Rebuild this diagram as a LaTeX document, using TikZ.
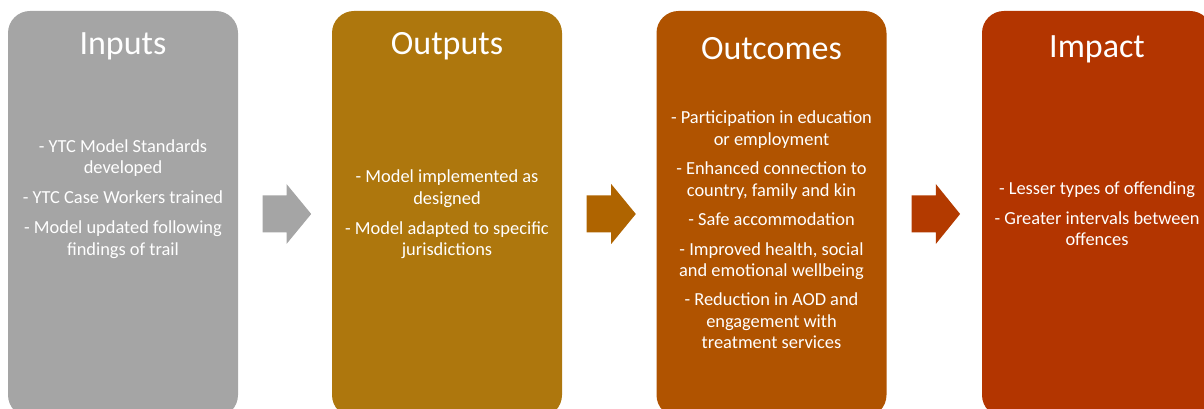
\documentclass[tikz,border=0pt]{standalone}
\usepackage{fontspec}
\setmainfont{Carlito}
\usetikzlibrary{calc}

\definecolor{inputgray}{RGB}{165,165,165}
\definecolor{outputgold}{RGB}{174,119,13}
\definecolor{outcomeorange}{RGB}{176,83,0}
\definecolor{impactred}{RGB}{179,53,0}
\definecolor{arrowgold}{RGB}{175,100,0}
\definecolor{arrowred}{RGB}{179,58,0}

\tikzset{every picture/.style={line width=0.75pt}}
\tikzset{
  stagebox/.style={draw=none, rounded corners=16.5pt, minimum width=172.5pt, minimum height=304.5pt, inner sep=0pt},
  stagetitle/.style={anchor=base, inner sep=0.75pt, text=white, font=\fontsize{25.5}{30}\selectfont},
  stagetext/.style={inner sep=0.75pt, text=white, align=center, font=\fontsize{13.8}{16.1}\selectfont},
  blockarrow/.style={draw=none}
}

\begin{document}
\begin{tikzpicture}[x=0.75pt,y=0.75pt,yscale=-1,xscale=1]
\useasboundingbox (0,0) rectangle (1204,409);
\clip (0,0) rectangle (1204,409);

%Rounded Rect: stages
\node [stagebox, fill=inputgray] (inputs) at (123,214) {};
\node [stagebox, fill=outputgold] (outputs) at (447,214) {};
\node [stagebox, fill=outcomeorange] (outcomes) at (771.5,214) {};
\node [stagebox, fill=impactred] (impact) at (1097,214) {};

%Block Arrows
\draw [blockarrow, fill=inputgray] ($(inputs.east)+(24,-18.5)$) -- ++(24,0) -- ++(0,-11.5) -- ++(24.7,30) -- ++(-24.7,30) -- ++(0,-11.5) -- ++(-24,0) -- cycle ;
\draw [blockarrow, fill=arrowgold] ($(outputs.east)+(24,-18.5)$) -- ++(24.7,0) -- ++(0,-11.5) -- ++(24.6,30) -- ++(-24.6,30) -- ++(0,-11.5) -- ++(-24.7,0) -- cycle ;
\draw [blockarrow, fill=arrowred] ($(outcomes.east)+(24.5,-18.5)$) -- ++(24.3,0) -- ++(0,-11.5) -- ++(24.3,30) -- ++(-24.3,30) -- ++(0,-11.5) -- ++(-24.3,0) -- cycle ;

% Text Node
\draw (123,55) node [stagetitle] {Inputs};
% Text Node
\draw (447,55) node [stagetitle] {Outputs};
% Text Node
\draw (771.5,60) node [stagetitle] {Outcomes};
% Text Node
\draw (1097,58) node [stagetitle] {Impact};

% Text Node
\draw (123,199) node [stagetext] {- YTC Model Standards\\developed\\[6.4pt]- YTC Case Workers trained\\[6.4pt]- Model updated following\\findings of trail};
% Text Node
\draw (447,214.5) node [stagetext] {- Model implemented as\\designed\\[6.4pt]- Model adapted to specific\\jurisdictions};
% Text Node
\draw (771.5,230) node [stagetext] {- Participation in education\\or employment\\[6pt]- Enhanced connection to\\country, family and kin\\[6pt]- Safe accommodation\\[6pt]- Improved health, social\\and emotional wellbeing\\[6pt]- Reduction in AOD and\\engagement with\\treatment services};
% Text Node
\draw (1097,213.5) node [stagetext] {- Lesser types of offending\\[6.4pt]- Greater intervals between\\offences};
\end{tikzpicture}
\end{document}
